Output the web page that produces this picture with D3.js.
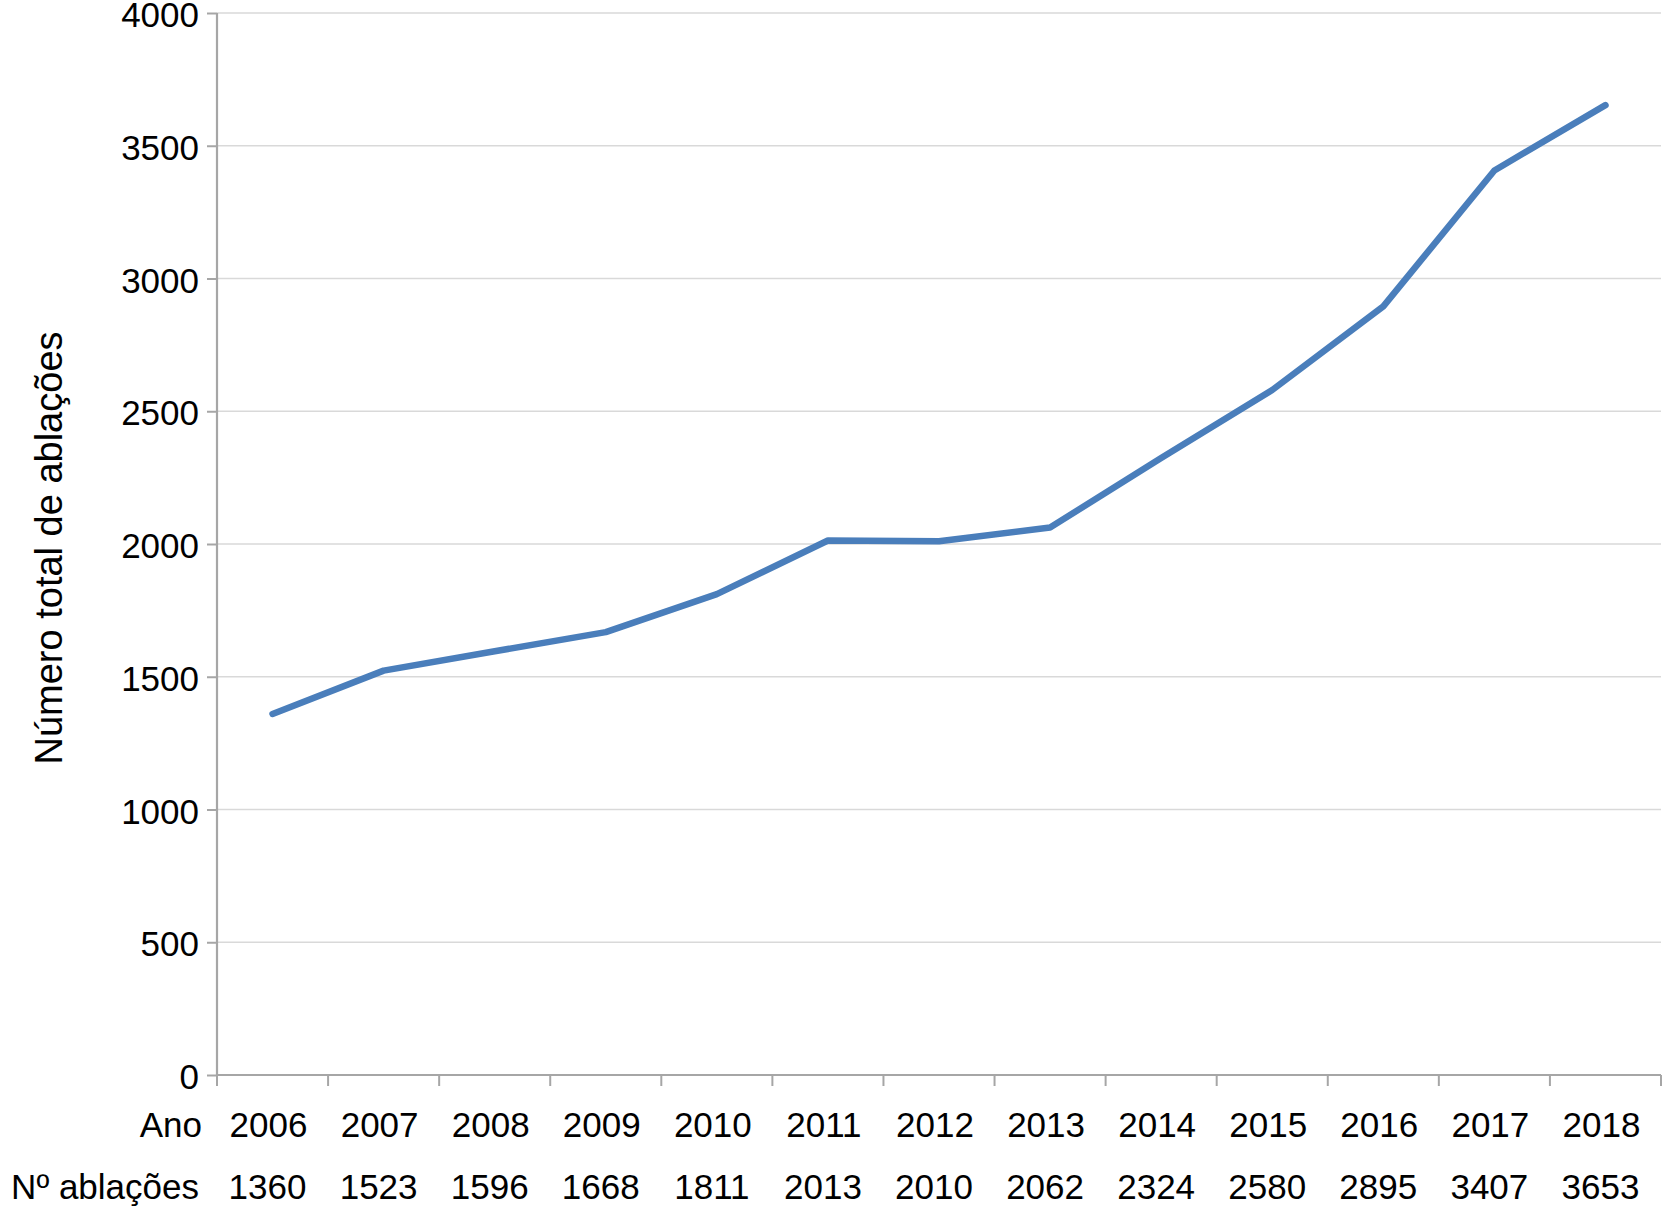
<!DOCTYPE html>
<html>
<head>
<meta charset="utf-8">
<script src="https://cdn.jsdelivr.net/npm/d3@7"></script>
<style>
  html, body { margin: 0; padding: 0; background: #fff; }
  svg { display: block; }
  text { font-family: "Liberation Sans", Arial, Helvetica, sans-serif; fill: #000; }
</style>
</head>
<body>
<svg id="chart" width="1666" height="1212"></svg>
<script>
const years = ["2006","2007","2008","2009","2010","2011","2012","2013","2014","2015","2016","2017","2018"];
const ablations = [1360, 1523, 1596, 1668, 1811, 2013, 2010, 2062, 2324, 2580, 2895, 3407, 3653];
const yTicks = [0, 500, 1000, 1500, 2000, 2500, 3000, 3500, 4000];
const yTitle = "Número total de ablações";
const rowLabelYear = "Ano";
const rowLabelCount = "Nº ablações";

(function () {
const svg = d3.select("#chart");
const mLeft = 217, mRight = 1661, mTop = 13, mBottom = 1075;

const x = d3.scaleBand().domain(years).range([mLeft, mRight]).paddingInner(0).paddingOuter(0);
const y = d3.scaleLinear().domain([0, 4000]).range([mBottom, mTop]);

// gridlines
svg.append("g").selectAll("line").data(yTicks.filter(d => d > 0)).join("line")
  .attr("x1", mLeft).attr("x2", mRight)
  .attr("y1", d => y(d)).attr("y2", d => y(d))
  .attr("stroke", "#d9d9d9").attr("stroke-width", 1.6);

// y axis
const yAxis = svg.append("g").attr("transform", `translate(${mLeft},0)`)
  .call(d3.axisLeft(y).tickValues(yTicks).tickSize(10).tickPadding(8).tickFormat(d3.format("d")));
yAxis.select(".domain").attr("stroke", "#a6a6a6").attr("stroke-width", 2.2)
  .attr("d", `M0,${mTop}V${mBottom}`);
yAxis.selectAll(".tick line").attr("stroke", "#a6a6a6").attr("stroke-width", 2);
yAxis.selectAll(".tick text").attr("font-size", 35).attr("dy", "0.39em")
  .style("font-family", '"Liberation Sans", Arial, sans-serif').attr("fill", "#000");

// x axis (ticks at band boundaries)
const xAxisG = svg.append("g").attr("transform", `translate(0,${mBottom})`);
xAxisG.append("line").attr("x1", mLeft).attr("x2", mRight).attr("y1", 0).attr("y2", 0)
  .attr("stroke", "#a6a6a6").attr("stroke-width", 2.2);
const bounds = years.map(d => x(d)).concat([x(years[years.length - 1]) + x.bandwidth()]);
xAxisG.selectAll("line.tk").data(bounds).join("line").attr("class", "tk")
  .attr("x1", d => d).attr("x2", d => d).attr("y1", 0).attr("y2", 11)
  .attr("stroke", "#a6a6a6").attr("stroke-width", 2);

// line
const line = d3.line().x((d, i) => x(years[i]) + x.bandwidth() / 2).y(d => y(d));
svg.append("path").datum(ablations).attr("d", line)
  .attr("fill", "none").attr("stroke", "#4a7ebb").attr("stroke-width", 6.5)
  .attr("stroke-linejoin", "round").attr("stroke-linecap", "round");

// bottom table rows
const rowY1 = 1137, rowY2 = 1199;
svg.append("text").attr("x", 202).attr("y", rowY1).attr("text-anchor", "end")
  .attr("font-size", 35).text(rowLabelYear);
svg.append("text").attr("x", 199).attr("y", rowY2).attr("text-anchor", "end")
  .attr("font-size", 35).text(rowLabelCount);
svg.append("g").selectAll("text").data(years).join("text")
  .attr("x", d => x(d) + x.bandwidth() / 2 - 4).attr("y", rowY1)
  .attr("text-anchor", "middle").attr("font-size", 35).text(d => d);
svg.append("g").selectAll("text").data(ablations).join("text")
  .attr("x", (d, i) => x(years[i]) + x.bandwidth() / 2 - 5).attr("y", rowY2)
  .attr("text-anchor", "middle").attr("font-size", 35).text(d => d);

// y title
svg.append("text").attr("transform", `translate(62,548) rotate(-90)`)
  .attr("text-anchor", "middle").attr("font-size", 38).text(yTitle);
})();
</script>
</body>
</html>
